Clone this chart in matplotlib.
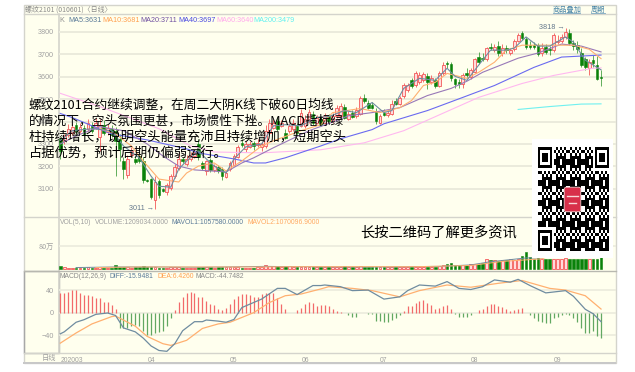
#!/usr/bin/env python3
"""plot.py - rebar 2101 daily K line chart with volume and MACD panes."""

import matplotlib
matplotlib.use("Agg")
import matplotlib.pyplot as plt
import numpy as np
from matplotlib.patches import FancyBboxPatch, Rectangle

# ── Data ──────────────────────────────────────────────────────────────────────
opens = [3323, 3314, 3341, 3350, 3386, 3359, 3372, 3368, 3386, 3372,
         3332, 3386, 3354, 3368, 3359, 3323, 3225, 3161, 3250, 3233,
         3245, 3224, 3140, 3143, 3048, 3134, 3098, 3085, 3102, 3156,
         3192, 3233, 3210, 3233, 3246, 3300, 3215, 3179, 3228, 3183,
         3197, 3188, 3152, 3188, 3206, 3242, 3305, 3278, 3287, 3305,
         3295, 3285, 3291, 3350, 3372, 3404, 3381, 3350, 3359, 3368,
         3381, 3381, 3381, 3404, 3435, 3395, 3413, 3395, 3426, 3404,
         3426, 3426, 3467, 3413, 3440, 3426, 3435, 3503, 3485, 3476,
         3449, 3395, 3440, 3431, 3435, 3490, 3480, 3512, 3539, 3584,
         3562, 3575, 3584, 3602, 3575, 3584, 3561, 3615, 3660, 3656,
         3588, 3575, 3566, 3615, 3597, 3620, 3688, 3683, 3678, 3732,
         3719, 3737, 3705, 3728, 3705, 3723, 3760, 3795, 3768, 3741,
         3741, 3741, 3705, 3732, 3725, 3719, 3755, 3760, 3778, 3795,
         3750, 3741, 3705, 3678, 3638, 3674, 3651, 3597]
closes = [3269, 3336, 3368, 3377, 3359, 3377, 3345, 3395, 3359, 3395,
          3386, 3350, 3372, 3341, 3314, 3278, 3190, 3233, 3270, 3220,
          3225, 3138, 3135, 3062, 3129, 3071, 3089, 3116, 3156, 3197,
          3233, 3224, 3233, 3246, 3264, 3242, 3192, 3224, 3183, 3201,
          3179, 3156, 3170, 3215, 3246, 3287, 3296, 3300, 3300, 3291,
          3305, 3300, 3359, 3395, 3395, 3368, 3395, 3328, 3381, 3395,
          3350, 3440, 3413, 3444, 3395, 3417, 3386, 3426, 3404, 3426,
          3462, 3471, 3417, 3435, 3422, 3453, 3503, 3490, 3462, 3462,
          3404, 3426, 3431, 3440, 3480, 3480, 3503, 3562, 3562, 3557,
          3615, 3606, 3611, 3575, 3593, 3561, 3615, 3651, 3656, 3593,
          3566, 3566, 3606, 3606, 3629, 3678, 3665, 3678, 3728, 3728,
          3732, 3705, 3728, 3719, 3719, 3760, 3786, 3773, 3732, 3732,
          3735, 3700, 3728, 3710, 3718, 3786, 3762, 3778, 3800, 3750,
          3737, 3723, 3651, 3642, 3665, 3660, 3588, 3593]
highs = [3332, 3345, 3390, 3395, 3400, 3395, 3385, 3410, 3400, 3415,
         3410, 3405, 3390, 3385, 3375, 3345, 3240, 3250, 3285, 3245,
         3260, 3240, 3145, 3150, 3155, 3145, 3105, 3125, 3165, 3210,
         3265, 3240, 3250, 3262, 3275, 3320, 3225, 3230, 3235, 3210,
         3205, 3195, 3180, 3225, 3255, 3295, 3320, 3315, 3312, 3315,
         3320, 3315, 3385, 3410, 3412, 3420, 3408, 3365, 3395, 3410,
         3395, 3455, 3430, 3458, 3445, 3430, 3425, 3438, 3435, 3436,
         3475, 3482, 3480, 3445, 3450, 3465, 3515, 3525, 3495, 3488,
         3460, 3435, 3455, 3450, 3495, 3505, 3512, 3570, 3572, 3595,
         3628, 3620, 3622, 3615, 3610, 3595, 3625, 3668, 3672, 3668,
         3595, 3590, 3615, 3640, 3640, 3685, 3710, 3705, 3735, 3750,
         3745, 3760, 3745, 3740, 3730, 3770, 3795, 3806, 3778, 3760,
         3755, 3750, 3750, 3745, 3738, 3795, 3785, 3790, 3818, 3812,
         3765, 3760, 3730, 3690, 3680, 3698, 3692, 3630]
lows = [3233, 3300, 3330, 3340, 3345, 3350, 3340, 3360, 3350, 3365,
        3269, 3340, 3340, 3330, 3156, 3224, 3143, 3150, 3240, 3210,
        3215, 3125, 3130, 3055, 3011, 3060, 3085, 3070, 3095, 3150,
        3185, 3215, 3200, 3225, 3235, 3230, 3185, 3160, 3175, 3175,
        3170, 3140, 3148, 3180, 3200, 3235, 3285, 3265, 3280, 3275,
        3285, 3270, 3280, 3340, 3365, 3360, 3375, 3320, 3350, 3360,
        3340, 3375, 3372, 3395, 3385, 3388, 3378, 3388, 3395, 3395,
        3415, 3420, 3410, 3405, 3415, 3418, 3428, 3482, 3455, 3455,
        3388, 3390, 3425, 3422, 3428, 3475, 3475, 3505, 3530, 3550,
        3555, 3568, 3578, 3545, 3568, 3548, 3555, 3610, 3640, 3580,
        3550, 3552, 3550, 3595, 3590, 3615, 3655, 3670, 3672, 3720,
        3712, 3695, 3695, 3708, 3698, 3715, 3755, 3765, 3725, 3722,
        3725, 3695, 3695, 3700, 3698, 3712, 3745, 3750, 3770, 3742,
        3720, 3705, 3645, 3632, 3610, 3645, 3585, 3560]

# volume in units of 万 (10k lots)
volumes = [9, 6, 5, 4, 4, 4, 4, 6, 4, 4,
           6, 5, 5, 4, 13, 8, 7, 7, 5, 6,
           6, 9, 6, 7, 7, 5, 4, 5, 8, 8,
           8, 5, 5, 5, 5, 8, 7, 6, 6, 5,
           6, 7, 6, 7, 6, 8, 5, 5, 5, 5,
           6, 6, 14, 12, 9, 9, 7, 11, 9, 7,
           7, 8, 7, 8, 7, 7, 6, 7, 6, 6,
           7, 8, 9, 7, 6, 7, 9, 8, 7, 7,
           7, 7, 6, 6, 8, 7, 7, 8, 7, 7,
           8, 7, 7, 8, 7, 7, 12, 14, 18, 20,
           15, 14, 13, 14, 17, 18, 18, 20, 35, 30,
           30, 28, 30, 32, 33, 32, 35, 45, 59, 42,
           36, 42, 36, 36, 35, 36, 36, 36, 37, 36,
           36, 35, 36, 36, 36, 36, 36, 121]

macd_hist = [34, 34, 36, 40, 40, 35, 32, 31, 30, 26,
             26, 19, 18, 13, 6, -28, -28, -28, -24, -22,
             -24, -33, -39, -40, -36, -35, -33, -23, -10, 4,
             18, 27, 35, 37, 35, 28, 27, 21, 16, 13,
             7, 4, 9, 15, 24, 30, 33, 33, 31, 27,
             27, 33, 35, 34, 34, 26, 15, 7, -1, -1,
             4, 9, 16, 18, 17, 12, 13, 13, 12, 6,
             3, 2, -1, -5, -7, -7, -1, -1, -2, -3,
             -14, -15, -17, -17, -13, -9, -5, 3, 12, 12,
             17, 21, 23, 17, 13, 7, 9, 12, 13, 6,
             -2, -8, -8, -8, -5, -1, 4, 6, 12, 15,
             15, 11, 10, 6, 3, 4, 7, 8, 0, -5,
             -10, -15, -17, -18, -18, -10, -7, -4, -2, -5,
             -10, -17, -27, -36, -36, -33, -42, -44.7]

# moving averages, read at a handful of bars
ma5_idx = [0, 3, 8, 13, 16, 20, 23, 25, 28, 30, 32, 35, 37, 39, 42, 44, 47, 51, 54, 57, 61, 65, 68,
           72, 75, 79, 82, 84, 87, 91, 95, 98, 100, 103, 106, 109, 113, 115, 118, 121, 124, 128,
           130, 133, 137]
ma5_val = [3314, 3359, 3368, 3359, 3291, 3238, 3156, 3111, 3107, 3188, 3224, 3269, 3233, 3201, 3170,
           3233, 3287, 3300, 3381, 3386, 3381, 3418, 3422, 3449, 3440, 3485, 3440, 3449, 3548, 3593,
           3584, 3638, 3602, 3584, 3652, 3719, 3719, 3728, 3778, 3737, 3737, 3778, 3755, 3674, 3631]
ma10_idx = [10, 14, 18, 21, 25, 30, 32, 35, 39, 42, 46, 51, 54, 61, 66, 69, 76, 81, 86, 89, 92, 95,
            98, 103, 106, 110, 113, 117, 125, 130, 134, 137]
ma10_val = [3368, 3345, 3291, 3224, 3143, 3130, 3170, 3201, 3215, 3179, 3224, 3291, 3314, 3359, 3386,
            3440, 3458, 3440, 3462, 3494, 3561, 3575, 3615, 3593, 3620, 3665, 3719, 3741, 3741, 3741,
            3723, 3681]
ma20_idx = [0, 4, 10, 16, 22, 26, 30, 34, 42, 46, 49, 54, 63, 70, 73, 79, 86, 93, 99, 103, 107, 116,
            121, 127, 132, 137]
ma20_val = [3300, 3336, 3377, 3359, 3300, 3246, 3201, 3184, 3175, 3215, 3238, 3283, 3359, 3404, 3426,
            3440, 3462, 3516, 3548, 3580, 3620, 3683, 3706, 3746, 3737, 3711]
ma40_idx = [0, 3, 8, 13, 22, 32, 35, 44, 49, 52, 57, 66, 71, 79, 82, 93, 95, 102, 110, 120, 127, 137]
ma40_val = [3436, 3418, 3381, 3345, 3318, 3278, 3260, 3233, 3215, 3215, 3238, 3291, 3323, 3364, 3390,
            3449, 3462, 3508, 3561, 3642, 3688, 3697]
ma60_idx = [0, 10, 25, 33, 39, 51, 66, 77, 87, 106, 117, 125, 132, 135, 137]
ma60_val = [3526, 3467, 3368, 3291, 3264, 3260, 3274, 3305, 3359, 3508, 3570, 3606, 3629, 3638, 3640]
ma200_idx = [116, 124, 132, 137]
ma200_val = [3454, 3467, 3478, 3479]

mavol1_idx = [4, 14, 24, 36, 52, 60, 80, 96, 104, 109, 118, 122, 137]
mavol1_val = [5, 7, 7, 6, 9, 8, 7, 9, 14, 25, 38, 38, 106]
mavol2_idx = [9, 20, 30, 50, 60, 90, 104, 112, 122, 137]
mavol2_val = [5, 7, 7, 7, 8, 8, 12, 26, 35, 107]

diff_idx = [0, 1, 4, 6, 9, 12, 14, 16, 19, 21, 23, 25, 27, 29, 31, 34, 36, 37, 40, 42, 44, 46, 50, 51,
            55, 57, 60, 64, 66, 67, 71, 74, 78, 82, 86, 88, 91, 95, 98, 101, 104, 107, 110, 114, 116,
            119, 123, 128, 130, 133, 135, 137]
diff_val = [-37.5, -34, -17, -12.5, -3, -0.6, -5, -27, -34, -45, -59, -67, -68.5, -55, -32, -16, -16,
            -13, -15, -17, -12, 9, 21, 24, 43, 43, 32, 48, 48, 49, 46, 39, 40, 24, 28, 39, 49, 47, 55,
            43, 41, 46, 58, 54, 59, 48, 35, 39, 29, 6, -2, -15.9]
dea_idx = [0, 4, 8, 13, 14, 19, 22, 26, 28, 32, 36, 40, 43, 49, 53, 57, 61, 66, 68, 74, 79, 86, 91, 98,
           104, 111, 117, 124, 128, 133, 137]
dea_val = [-54, -36, -20, -7, -6, -24, -42, -55, -58, -49, -28, -20, -17, 0, 18, 30, 33, 42, 46, 43, 39,
           28, 39, 49, 45, 52, 57, 43, 40, 30, 6.4]

price_ticks = [3100, 3200, 3300, 3400, 3500, 3600, 3700, 3800]
month_idx = [0, 23, 44, 62, 82, 105, 126]
month_labels = ["202003", "04", "05", "06", "07", "08", "09"]

note_lines = [
    "螺纹2101合约继续调整，在周二大阴K线下破60日均线",
    "的情况下，空头氛围更甚，市场惯性下挫。MACD指标绿",
    "柱持续增长，说明空头能量充沛且持续增加，短期空头",
    "占据优势，预计后期仍偏弱运行。",
]
note_sizes = [9.18, 9.15, 9.55, 9.55]

# ── Styling ───────────────────────────────────────────────────────────────────
W, H = 635, 372
LATIN = ["Liberation Sans", "Noto Sans CJK SC"]
CJK = ["Noto Sans CJK SC", "DejaVu Sans"]
BG = "#FFFFEE"
GRID = "#EBEBDC"
BORDER = "#D4D4CC"
TICK = "#A0A0A0"
RED = "#F25858"
PINK = "#FFDCDC"
GREEN = "#0A820A"
C_MA5 = "#6F8CA0"
C_MA10 = "#FFB070"
C_MA20 = "#9878B8"
C_MA40 = "#6A6AF0"
C_MA60 = "#FFB8F0"
C_MA200 = "#70F0F0"

plt.rcParams.update({"font.family": LATIN, "font.size": 5.2, "axes.unicode_minus": False})

fig = plt.figure(figsize=(W / 100, H / 100), dpi=100, facecolor="white")


def pane(left, top, right, bottom):
    ax = fig.add_axes([left / W, 1 - bottom / H, (right - left) / W, (bottom - top) / H])
    ax.patch.set_alpha(0)
    for s in ax.spines.values():
        s.set_visible(False)
    return ax


def pixel_layer(zorder):
    ax = fig.add_axes([0, 0, 1, 1], zorder=zorder)
    ax.set_xlim(0, W)
    ax.set_ylim(H, 0)
    ax.axis("off")
    return ax


# ── Frame and panel backgrounds ───────────────────────────────────────────────
back = pixel_layer(0)
back.add_patch(Rectangle((23.5, 4.5), 592.5, 358, fc=BG, ec=BORDER, lw=1))
back.plot([23.5, 616], [14, 14], color=BORDER, lw=1)
back.plot([58.5, 58.5], [14, 353], color=BORDER, lw=1.2)
back.plot([23.5, 616], [217, 217], color=BORDER, lw=1)
back.plot([23.5, 616], [271, 271], color="#B8B8B0", lw=1)
back.plot([23.5, 616], [353, 353], color=BORDER, lw=1)
back.add_patch(Rectangle((23.5, 271), 35, 82, fc="none", ec="#A8A8A8", lw=1))
back.add_patch(Rectangle((23, 362), 593, 2.2, fc="#C8C8C8", ec="none"))

# ── X scale shared by the three panes ─────────────────────────────────────────
x_px0, x_step = 60.3, 3.947
xlim = ((58.5 - x_px0) / x_step, (616 - x_px0) / x_step)
idx = np.arange(len(closes))
o, c, hi, lo = map(np.array, (opens, closes, highs, lows))
up = c >= o

# ── K line pane ───────────────────────────────────────────────────────────────
ax = pane(58.5, 14, 616, 217)
ax.set_zorder(1)
ax.set_xlim(*xlim)
ax.set_ylim(3800 - 185 * 4.467, 3800 + 18 * 4.467)
ax.set_xticks([])
ax.set_yticks(price_ticks)
ax.tick_params(axis="y", length=0, pad=3.5, labelcolor=TICK, labelsize=5.2)
ax.grid(axis="y", color=GRID, lw=1.4)
ax.set_axisbelow(True)

ax.vlines(idx[up], lo[up], hi[up], color=RED, lw=0.6, zorder=2)
ax.vlines(idx[~up], lo[~up], hi[~up], color=GREEN, lw=0.6, alpha=0.75, zorder=2)
ax.bar(idx[up], (c - o)[up], bottom=o[up], width=0.72, fc=PINK, ec=RED, lw=0.6, zorder=3)
ax.bar(idx[~up], (c - o)[~up], bottom=o[~up], width=0.68, fc=GREEN, ec=GREEN, lw=0.4, zorder=3)

for xs, ys, col in [(ma200_idx, ma200_val, C_MA200), (ma60_idx, ma60_val, C_MA60),
                    (ma40_idx, ma40_val, C_MA40), (ma20_idx, ma20_val, C_MA20),
                    (ma10_idx, ma10_val, C_MA10), (ma5_idx, ma5_val, C_MA5)]:
    ax.plot(xs, ys, color=col, lw=0.8, zorder=4)

# high / low markers
ax.text(128 - 0.1, 3818, "3818 →", color="#64788C", ha="right", va="center", fontsize=5.2, zorder=5)
ax.text(24 - 0.2, 3011, "3011 →", color="#64788C", ha="right", va="center", fontsize=5.2, zorder=5)

# ── Volume pane ───────────────────────────────────────────────────────────────
vx = pane(58.5, 217, 616, 271)
vx.set_zorder(1)
vx.set_xlim(*xlim)
vx.set_ylim(-2 / 0.291, 52 / 0.291)
vx.set_xticks([])
vx.set_yticks([80])
vx.set_yticklabels(["80万"], family=CJK)
vx.tick_params(axis="y", length=0, pad=3.5, labelcolor=TICK, labelsize=5.2)
vx.grid(axis="y", color=GRID, lw=1.2)
vx.set_axisbelow(True)
vol = np.array(volumes)
vx.bar(idx[up], vol[up], width=0.72, fc=PINK, ec=RED, lw=0.6, zorder=3)
vx.bar(idx[~up], vol[~up], width=0.68, fc=GREEN, ec=GREEN, lw=0.4, zorder=3)
vx.plot(mavol1_idx, mavol1_val, color=C_MA5, lw=0.7, zorder=4)
vx.plot(mavol2_idx, mavol2_val, color=C_MA10, lw=0.7, zorder=4)

# ── MACD pane ─────────────────────────────────────────────────────────────────
mx = pane(58.5, 271, 616, 353)
mx.set_zorder(1)
mx.set_xlim(*xlim)
mx.set_ylim(-40 - (353 - 335.3) / 0.5625, 40 + (290 - 271) / 0.5625)
mx.set_yticks([-40, 0, 40])
mx.set_yticklabels(["−40", "0", "40"])
mx.tick_params(axis="y", length=0, pad=3.5, labelcolor=TICK, labelsize=5.2)
mx.grid(axis="y", color=GRID, lw=1.2)
mx.set_axisbelow(True)
mx.set_xticks(month_idx)
mx.set_xticklabels(month_labels)
mx.tick_params(axis="x", length=0, pad=3, labelcolor=TICK, labelsize=4.9)
mx.get_xticklabels()[0].set_ha("left")
h = np.array(macd_hist)
mx.vlines(idx[h >= 0], 0, h[h >= 0], color="#F26A6A", lw=0.9, zorder=2)
mx.vlines(idx[h < 0], 0, h[h < 0], color="#62A862", lw=0.9, zorder=2)
mx.plot(dea_idx, dea_val, color=C_MA10, lw=0.9, zorder=3)
mx.plot(diff_idx, diff_val, color=C_MA5, lw=0.9, zorder=4)

# ── Text, links, QR code on top ───────────────────────────────────────────────
top = pixel_layer(5)
top.text(25, 9.5, "螺纹2101 (010601)〈日线〉", color="#8A8A8A", fontsize=5, va="center", family=CJK)
top.text(553, 9.5, "商品叠加", color="#4A86A8", fontsize=5.2, va="center", family=CJK)
top.text(591, 9.5, "周期", color="#4A86A8", fontsize=5.2, va="center", family=CJK)
top.plot([553, 580], [13, 13], color="#7AA6C0", lw=0.6)
top.plot([591, 605], [13, 13], color="#7AA6C0", lw=0.6)

for px, s, col in [(59, "K", "#909090"), (68, "MA5:3631", "#5A7A98"), (102, "MA10:3681", "#FFA050"),
                   (140, "MA20:3711", "#7050A0"), (178, "MA40:3697", "#4848E0"),
                   (216, "MA60:3640", "#FFA8EC"), (253, "MA200:3479", "#60F0F0")]:
    top.text(px, 20, s, color=col, fontsize=5.2, va="center")

for px, s, col in [(59.5, "VOL(5,10)", "#A0A0A0"), (95, "VOLUME:1209034.0000", "#A0A0A0"),
                   (172, "MAVOL1:1057580.0000", "#5A7A98"), (248, "MAVOL2:1070096.9000", "#FFA860")]:
    top.text(px, 223, s, color=col, fontsize=4.85, va="center")

for px, s, col in [(59, "MACD(12,26,9)", "#8A8A8A"), (110, "DIFF:-15.9481", "#5A7A98"),
                   (157, "DEA:6.4260", "#FFA050"), (196, "MACD:-44.7482", "#8A8A8A")]:
    top.text(px, 276.7, s, color=col, fontsize=4.85, va="center")

top.text(42, 358, "日线", color=TICK, fontsize=5.2, va="center", family=CJK)

for y, line, size in zip([105, 121, 137, 153], note_lines, note_sizes):
    top.text(29, y, line, color="black", fontsize=size, va="center", family=CJK)
top.text(360, 233, "长按二维码了解更多资讯", color="black", fontsize=10.3, va="center", family=CJK)

# QR block, decorative pattern with the three finder squares
n = 35
r, q = np.mgrid[0:n, 0:n]
qr = ((r * r * 3 + q * q * 5 + r * q * 7 + r + 2 * q) % 7 < 3).astype(float)
finder = np.ones((8, 8))
finder[:7, :7] = 0
finder[1:6, 1:6] = 1
finder[2:5, 2:5] = 0
qr[:8, :8] = finder
qr[:8, -8:] = finder[:, ::-1]
qr[-8:, :8] = finder[::-1, :]
top.add_patch(Rectangle((532, 139), 81, 119, fc="white", ec="none"))
top.imshow(qr, cmap="gray", vmin=0, vmax=1, extent=(537.5, 608, 251, 147.5),
           aspect="auto", interpolation="nearest", zorder=3)
top.add_patch(FancyBboxPatch((565, 188), 15, 23, boxstyle="round,pad=0.8,rounding_size=2",
                             fc="#D8304A", ec="#F0C8C8", lw=0.6, zorder=4))
top.plot([567, 578], [196, 196], color="#F8D8D8", lw=1, zorder=5)
top.plot([569, 576], [203, 203], color="#F8D8D8", lw=1, zorder=5)
top.set_xlim(0, W)
top.set_ylim(H, 0)

fig.savefig("out.png", dpi=100)
plt.close(fig)
